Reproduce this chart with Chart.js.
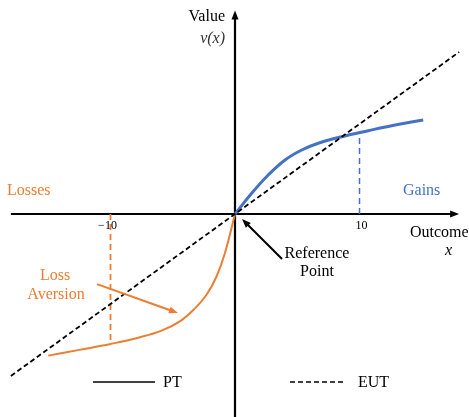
<!DOCTYPE html>
<html lang="en">
<head>
<meta charset="UTF-8">
<title>Prospect Theory Value Function</title>
<script src="https://cdn.jsdelivr.net/npm/chart.js"></script>
<style>
  body { margin: 0; background: #fff; }
  .wrap { width: 469px; height: 417px; position: relative; }
</style>
</head>
<body>
<div class="wrap"><canvas id="ptChart"></canvas></div>
<script>
// Data (x = outcome, v = value)
const eutX = [-18, 18];
const eutV = [-18, 18];
const gainX = [0, 1.34, 2.67, 4.02, 5.36, 6.69, 8.57, 10.71, 12.86, 15.12];
const gainV = [0, 2.3, 4.33, 6.0, 7.11, 7.86, 8.59, 9.26, 9.89, 10.44];
const lossX = [-15.0, -12.5, -10.0, -7.63, -5.8, -4.4, -3.3, -2.3, -1.5, -0.8, 0];
const lossV = [-15.74, -15.1, -14.45, -13.7, -12.9, -11.9, -10.6, -9.0, -7.0, -4.3, 0];
const tickX = [-10, 10];
const tickLabels = ['\u221210', '10'];
const markV = [-14.3, 9.0]; // ends of the dashed drop lines

const ORANGE = '#ED7D31';
const BLUE = '#4472C4';
const SERIF = '"Liberation Serif", "DejaVu Serif", serif';

const pts = (xs, ys) => xs.map((x, i) => ({ x: x, y: ys[i] }));

function arrowHead(ctx, x1, y1, x2, y2, len, wid, color) {
  const a = Math.atan2(y2 - y1, x2 - x1);
  ctx.save();
  ctx.fillStyle = color;
  ctx.translate(x2, y2);
  ctx.rotate(a);
  ctx.beginPath();
  ctx.moveTo(0, 0);
  ctx.lineTo(-len, -wid / 2);
  ctx.lineTo(-len, wid / 2);
  ctx.closePath();
  ctx.fill();
  ctx.restore();
}

function arrow(ctx, x1, y1, x2, y2, color, w) {
  const a = Math.atan2(y2 - y1, x2 - x1);
  ctx.save();
  ctx.strokeStyle = color;
  ctx.lineWidth = w;
  ctx.beginPath();
  ctx.moveTo(x1, y1);
  ctx.lineTo(x2 - Math.cos(a) * 6, y2 - Math.sin(a) * 6);
  ctx.stroke();
  ctx.restore();
  arrowHead(ctx, x1, y1, x2, y2, 9, 7, color);
}

// axes with arrow heads, drawn under the curves
const axesPlugin = {
  id: 'axes',
  beforeDatasetsDraw(chart) {
    const { ctx, scales: { x, y }, chartArea } = chart;
    const ox = x.getPixelForValue(0), oy = y.getPixelForValue(0);
    ctx.save();
    ctx.strokeStyle = '#000';
    ctx.lineWidth = 2.2;
    ctx.beginPath();
    ctx.moveTo(x.getPixelForValue(-18), oy);
    ctx.lineTo(x.getPixelForValue(18) - 6, oy);
    ctx.moveTo(ox, chartArea.bottom);
    ctx.lineTo(ox, y.getPixelForValue(22.6) + 6);
    ctx.stroke();
    ctx.restore();
    arrowHead(ctx, ox, oy, x.getPixelForValue(18), oy, 9, 7, '#000');
    arrowHead(ctx, ox, oy, ox, y.getPixelForValue(22.6), 9, 7, '#000');
  }
};

// labels, annotation arrows and legend
const notesPlugin = {
  id: 'notes',
  afterDatasetsDraw(chart) {
    const { ctx, scales: { x, y } } = chart;
    const px = v => x.getPixelForValue(v), py = v => y.getPixelForValue(v);
    ctx.save();
    ctx.textBaseline = 'middle';

    ctx.font = '16px ' + SERIF;
    ctx.fillStyle = '#000';
    ctx.textAlign = 'right';
    ctx.fillText('Value', 225, 17);
    ctx.font = 'italic 16px ' + SERIF;
    ctx.fillStyle = '#333';
    ctx.fillText('v(x)', 225, 39);

    ctx.textAlign = 'left';
    ctx.font = '16px ' + SERIF;
    ctx.fillStyle = ORANGE;
    ctx.fillText('Losses', 7, 191);
    ctx.fillStyle = BLUE;
    ctx.fillText('Gains', 403, 191);

    ctx.fillStyle = '#000';
    ctx.fillText('Outcome', 410, 233);
    ctx.font = 'italic 16px ' + SERIF;
    ctx.fillText('x', 445, 251);

    ctx.font = '12px ' + SERIF;
    ctx.textAlign = 'center';
    tickX.forEach((t, i) => {
      const off = t < 0 ? -3 : 2;
      ctx.fillText(tickLabels[i], px(t) + off, 226);
    });

    ctx.font = '16px ' + SERIF;
    ctx.fillText('Reference', 317, 254);
    ctx.fillText('Point', 317, 272);
    ctx.fillStyle = ORANGE;
    ctx.fillText('Loss', 55, 276);
    ctx.fillText('Aversion', 56, 295);

    // annotation arrows
    arrow(ctx, px(-11.08), py(-7.8), px(-4.58), py(-11.0), ORANGE, 2);
    arrow(ctx, px(3.78), py(-5.0), px(0.56), py(-0.56), '#000', 2);

    // legend
    ctx.strokeStyle = '#000';
    ctx.lineWidth = 1.6;
    ctx.beginPath();
    ctx.moveTo(93, 382);
    ctx.lineTo(155, 382);
    ctx.stroke();
    ctx.setLineDash([5, 3]);
    ctx.beginPath();
    ctx.moveTo(290, 382);
    ctx.lineTo(346, 382);
    ctx.stroke();
    ctx.setLineDash([]);
    ctx.fillStyle = '#000';
    ctx.textAlign = 'left';
    ctx.fillText('PT', 163, 383);
    ctx.fillText('EUT', 358, 383);
    ctx.restore();
  }
};

new Chart(document.getElementById('ptChart'), {
  type: 'scatter',
  data: {
    datasets: [
      {
        label: 'EUT',
        data: pts(eutX, eutV),
        showLine: true,
        borderColor: '#000',
        borderWidth: 1.8,
        borderDash: [5, 3],
        pointRadius: 0
      },
      {
        label: 'Gains drop',
        data: [{ x: tickX[1], y: 0 }, { x: tickX[1], y: markV[1] }],
        showLine: true,
        borderColor: BLUE,
        borderWidth: 1.5,
        borderDash: [6, 4],
        pointRadius: 0
      },
      {
        label: 'Losses drop',
        data: [{ x: tickX[0], y: 0 }, { x: tickX[0], y: markV[0] }],
        showLine: true,
        borderColor: ORANGE,
        borderWidth: 1.8,
        borderDash: [6, 4],
        pointRadius: 0
      },
      {
        label: 'PT gains',
        data: pts(gainX, gainV),
        showLine: true,
        borderColor: BLUE,
        borderWidth: 3,
        tension: 0.4,
        pointRadius: 0
      },
      {
        label: 'PT losses',
        data: pts(lossX, lossV),
        showLine: true,
        borderColor: ORANGE,
        borderWidth: 2,
        tension: 0.4,
        pointRadius: 0
      }
    ]
  },
  options: {
    responsive: true,
    maintainAspectRatio: false,
    animation: false,
    layout: { padding: 0 },
    plugins: { legend: { display: false }, tooltip: { enabled: false } },
    scales: {
      x: { type: 'linear', min: -18.875, max: 18.795, display: false },
      y: { type: 'linear', min: -22.56, max: 23.78, display: false }
    }
  },
  plugins: [axesPlugin, notesPlugin]
});
</script>
</body>
</html>
